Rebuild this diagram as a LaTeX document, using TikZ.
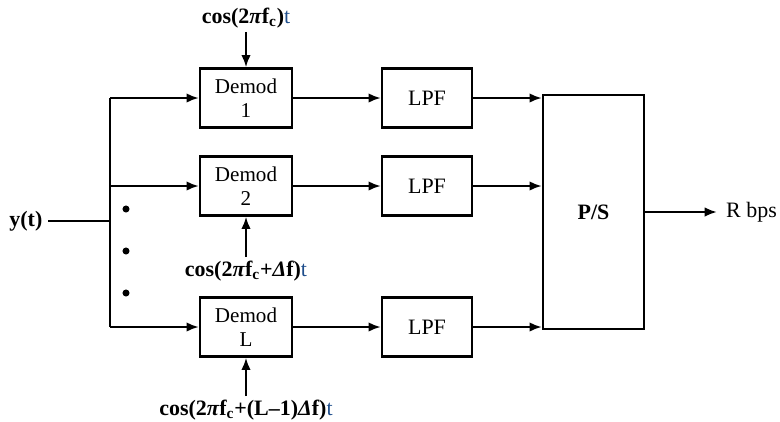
\documentclass[tikz,border=0pt]{standalone}
\usepackage{fontspec}
\setmainfont{Liberation Serif}
\usepackage{xcolor}
\usepackage{tikz}
\usetikzlibrary{
  arrows.meta,
  positioning
}
\definecolor{tblue}{HTML}{1F4E8C}

\begin{document}
\begin{tikzpicture}[
  every node/.style={font=\fontsize{12}{14}\selectfont},
  box/.style={
    rectangle, minimum width=1.84cm, minimum height=1.18cm,
    text centered, align=center, draw, line width=1.3pt, inner sep=1pt
  },
  demod/.style={box},
  filter/.style={box, minimum width=1.8cm, font=\fontsize{12.5}{14}\selectfont},
  conv/.style={box, minimum width=2.02cm, minimum height=4.68cm, font=\fontsize{12.5}{14}\selectfont\bfseries},
  carrier/.style={font=\fontsize{12.5}{14}\selectfont\bfseries, inner sep=2pt},
  wire/.style={line width=1.3pt},
  arr/.style={-{Latex[length=7pt,width=5.4pt]}, line width=1.3pt}
]
\useasboundingbox (0,4.42) rectangle (15.6,-4.0);

% Input and bus
\node[anchor=east, inner sep=3pt, font=\fontsize{12.5}{14}\selectfont\bfseries] (yt) at (0.96,0) {y(t)};
\coordinate (bus) at (2.2,0);
\coordinate (bus1) at (2.2,2.46);
\coordinate (bus2) at (2.2,0.70);
\coordinate (busL) at (2.2,-2.12);

% Demodulators
\node[demod] (dm1) at (4.92,2.46) {Demod\\1};
\node[demod] (dm2) at (4.92,0.70) {Demod\\2};
\node[demod] (dmL) at (4.92,-2.12) {Demod\\L};

% Carriers
\node[carrier] (cos1) at (4.92,4.06) {cos(2\textit{π}f\textsubscript{c})\textcolor{tblue}{\mdseries t}};
\node[carrier] (cos2) at (4.92,-1.0) {cos(2\textit{π}f\textsubscript{c}+\textit{Δ}f)\textcolor{tblue}{\mdseries t}};
\node[carrier] (cosL) at (4.92,-3.78) {cos(2\textit{π}f\textsubscript{c}+(L--1)\textit{Δ}f)\textcolor{tblue}{\mdseries t}};

% LPFs
\node[filter] (lpf1) at (8.54,2.46) {LPF};
\node[filter] (lpf2) at (8.54,0.70) {LPF};
\node[filter] (lpfL) at (8.54,-2.12) {LPF};

% P/S
\node[conv] (ps) at (11.87,0.18) {P/S};
\node[anchor=west, inner sep=5pt, font=\fontsize{12.5}{14}\selectfont] (rbps) at (14.34,0.18) {R bps};

% Dots
\foreach \y in {0.24,-0.60,-1.44}
  \fill (2.52,\y) circle (2pt);

% Arrows
\draw[wire] (yt) -- (bus);
\draw[wire] (bus1) -- (busL);
\draw[arr] (bus1) -- (dm1);
\draw[arr] (bus2) -- (dm2);
\draw[arr] (busL) -- (dmL);
\draw[arr] (cos1) -- (dm1);
\draw[arr] (cos2) -- (dm2);
\draw[arr] (cosL) -- (dmL);
\draw[arr] (dm1) -- (lpf1);
\draw[arr] (dm2) -- (lpf2);
\draw[arr] (dmL) -- (lpfL);
\draw[arr] (lpf1) -- (lpf1 -| ps.west);
\draw[arr] (lpf2) -- (lpf2 -| ps.west);
\draw[arr] (lpfL) -- (lpfL -| ps.west);
\draw[arr] (ps) -- (rbps);

\end{tikzpicture}
\end{document}
